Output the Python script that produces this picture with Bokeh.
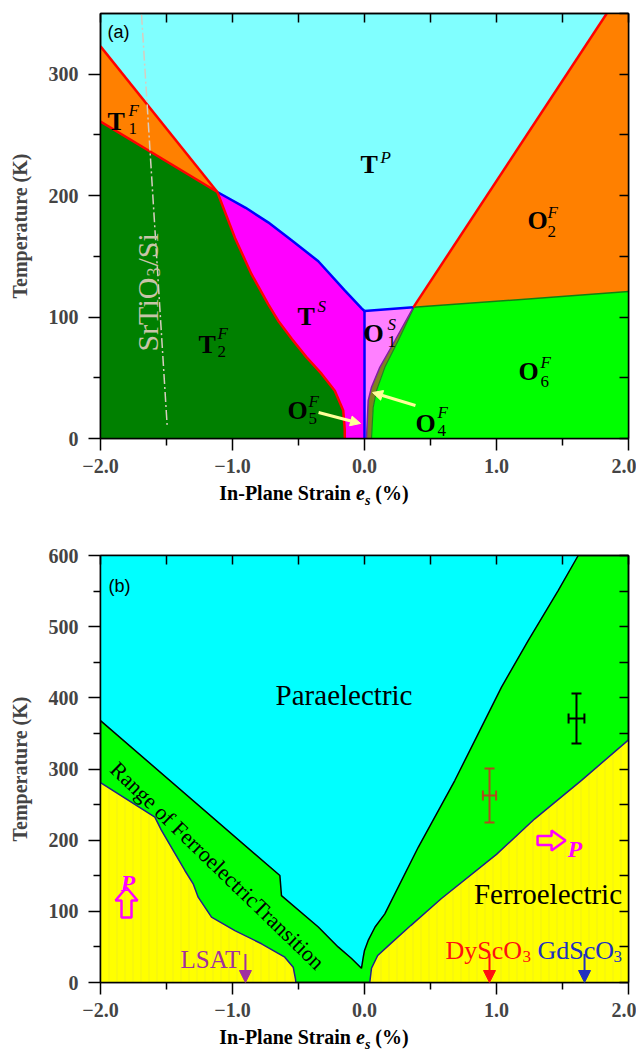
from bokeh.plotting import figure
from bokeh.layouts import column
from bokeh.models import (LinearAxis, FixedTicker, Label, Arrow, NormalHead, Whisker,
                          TeeHead, ColumnDataSource, Range1d, Div)
from bokeh.embed import file_html
from bokeh.resources import INLINE

SERIF = "Liberation Serif"
SANS = "Liberation Sans"

# ================= Panel (a): phase boundaries (in-plane strain %, temperature K)
tp_t1f_x = [-2.0, -1.115]
tp_t1f_T = [323, 203]
t1f_t2f_x = [-2.0, -1.115]
t1f_t2f_T = [261, 203]
t2f_ts_x = [-1.115, -0.982, -0.856, -0.730, -0.654, -0.55, -0.44, -0.326, -0.225, -0.161, -0.150, -0.149]
t2f_ts_T = [203, 165.4, 135.3, 110.7, 97, 82, 67, 53.4, 39.4, 23, 8, 0]
tp_ts_x = [-1.115, -0.9, -0.73, -0.55, -0.35, -0.15, -0.02, 0.0]
tp_ts_T = [203, 190, 178, 163, 146, 122, 107, 105]
tp_o1s_x = [0.0, 0.37]
tp_o1s_T = [105, 108]
ts_o1s_x = [0.0, 0.0]
ts_o1s_T = [105, 0]
o1s_o4f_x = [0.37, 0.23, 0.116, 0.053, 0.028, 0.015]
o1s_o4f_T = [108, 80.5, 58.6, 42.2, 31.2, 0]
o4f_o6f_x = [0.375, 0.255, 0.154, 0.091, 0.066, 0.053]
o4f_o6f_T = [108, 80.5, 58.6, 39.4, 25.7, 0]
tp_o2f_x = [0.37, 1.835]
tp_o2f_T = [108, 350]
o2f_o6f_x = [0.37, 2.0]
o2f_o6f_T = [108, 121]
sto_si_x = [-1.689, -1.494]
sto_si_T = [349, 9]

# ================= Panel (b): boundaries
pe_left_x = [-2.0, -0.641, -0.629, -0.35, -0.2, -0.1, -0.023]
pe_left_T = [368, 150.3, 122, 78, 50, 34, 20]
pe_right_x = [-0.023, -0.01, 0.0, 0.03, 0.08, 0.154, 0.407, 0.684, 0.861, 1.038, 1.24, 1.467, 1.619]
pe_right_T = [20, 35, 45, 60, 78, 96.5, 190, 283.8, 349.4, 415, 480.5, 550.8, 600]
fe_left_x = [-2.0, -1.588, -1.538, -1.361, -1.298, -1.26, -1.159, -0.982, -0.78, -0.604, -0.54, -0.523, -0.52]
fe_left_T = [281, 232.3, 213.6, 157.4, 138.7, 119.9, 91.8, 73, 54.4, 35.6, 21.5, 5, 0]
fe_right_x = [0.04, 0.053, 0.1, 0.2, 0.35, 0.583, 1.0, 1.29, 1.644, 2.0]
fe_right_T = [0, 20, 38, 55, 80, 118, 180, 230, 284, 341]

meas_x = [0.947, 1.606]
meas_T = [262.7, 371]
meas_xerr = [0.05, 0.06]
meas_Terr = [38, 35]
meas_colors = ["#B04A1E", "#000000"]

sub_names = ["LSAT", "DyScO", "GdScO"]
sub_strain = [-0.902, 0.947, 1.667]
sub_colors = ["#A030A0", "#FF1010", "#2030C0"]

x_ticks = [-2, -1, 0, 1, 2]
x_tick_labels = ["\u22122.0", "\u22121.0", "0.0", "1.0", "2.0"]
x_minor = [-1.5, -0.5, 0.5, 1.5]
x_all = [-2, -1.5, -1, -0.5, 0, 0.5, 1, 1.5, 2]


def make_fig(ymax, yticks, yminor, yall, frame_h, btop, bbot, bg):
    p = figure(frame_width=528, frame_height=frame_h,
               x_range=Range1d(-2, 2), y_range=Range1d(0, ymax),
               output_backend="svg", toolbar_location=None,
               min_border_left=100, min_border_right=8,
               min_border_top=btop, min_border_bottom=bbot,
               background_fill_color=bg, border_fill_color="white",
               outline_line_color="black", outline_line_width=1.5)
    p.xgrid.visible = False
    p.ygrid.visible = False
    ax = p.xaxis[0]
    ax.ticker = FixedTicker(ticks=x_ticks, minor_ticks=x_minor)
    ax.major_label_overrides = {t: l for t, l in zip(x_ticks, x_tick_labels)}
    ay = p.yaxis[0]
    ay.ticker = FixedTicker(ticks=yticks, minor_ticks=yminor)
    ay.axis_label = "Temperature (K)"
    for a in (ax, ay):
        a.axis_line_width = 1.5
        a.major_tick_line_width = 1.5
        a.minor_tick_line_width = 1.5
        a.major_tick_in = 0
        a.major_tick_out = 12
        a.minor_tick_in = 0
        a.minor_tick_out = 7
        a.major_label_text_font = SERIF
        a.major_label_text_font_style = "bold"
        a.major_label_text_font_size = "20px"
        a.axis_label_text_font = SERIF
        a.axis_label_text_font_style = "bold"
        a.axis_label_text_font_size = "20px"
    ax.major_label_standoff = 8
    ay.major_label_standoff = 10
    ay.axis_label_standoff = 15
    top = LinearAxis(ticker=FixedTicker(ticks=[], minor_ticks=x_all))
    right = LinearAxis(ticker=FixedTicker(ticks=[], minor_ticks=yall))
    for a in (top, right):
        a.minor_tick_in = 9
        a.minor_tick_out = 0
        a.major_tick_in = 0
        a.major_tick_out = 0
        a.minor_tick_line_width = 1.5
        a.axis_line_width = 1.5
    p.add_layout(top, "above")
    p.add_layout(right, "right")
    return p


def lab(p, x, y, text, size, style="normal", color="black", font=SERIF,
        align="left", baseline="alphabetic", angle=0.0):
    p.add_layout(Label(x=x, y=y, text=text, text_font=font,
                       text_font_size=f"{size}px", text_font_style=style,
                       text_color=color, text_align=align,
                       text_baseline=baseline, angle=angle))


def xlabel_div(height, pad_top):
    html = ('<div style="font-family:\'Liberation Serif\',serif; font-weight:bold; '
            'font-size:20px; line-height:20px; text-align:center; color:black; '
            f'padding-left:100px; padding-top:{pad_top}px; width:528px; white-space:nowrap;">'
            'In-Plane Strain <i>e<sub style="font-size:14px; line-height:0;">s</sub></i> (%)</div>')
    return Div(text=html, width=636, height=height, margin=(0, 0, 0, 0))


# ---------------- Figure (a)
pa = make_fig(350, [0, 100, 200, 300], [50, 150, 250], list(range(0, 351, 50)),
              425, 13, 45, "#80FFFF")

pa.patch([tp_t1f_x[0], tp_t1f_x[1], t1f_t2f_x[0]], [tp_t1f_T[0], tp_t1f_T[1], t1f_t2f_T[0]],
         fill_color="#FF8000", line_color=None)
pa.patch(t1f_t2f_x + t2f_ts_x[1:] + [-2.0], t1f_t2f_T + t2f_ts_T[1:] + [0],
         fill_color="#008000", line_color=None)
pa.patch(tp_ts_x + [0.0] + t2f_ts_x[::-1], tp_ts_T + [0] + t2f_ts_T[::-1],
         fill_color="#FF00FF", line_color=None)
pa.patch(tp_o1s_x + o1s_o4f_x[1:] + [0.0], tp_o1s_T + o1s_o4f_T[1:] + [0],
         fill_color="#FF80FF", line_color=None)
pa.patch(o1s_o4f_x + o4f_o6f_x[::-1], o1s_o4f_T + o4f_o6f_T[::-1],
         fill_color="#808020", line_color=None)
pa.patch(o4f_o6f_x + [2.0, 2.0], o4f_o6f_T + [0, 121],
         fill_color="#00FF00", line_color=None)
pa.patch(tp_o2f_x + [2.0, 2.0], tp_o2f_T + [350, 121],
         fill_color="#FF8000", line_color=None)

pa.line(o4f_o6f_x, o4f_o6f_T, line_color="#208020", line_width=1.2)
pa.line(o1s_o4f_x, o1s_o4f_T, line_color="#8020A0", line_width=1.5)
pa.line(o2f_o6f_x, o2f_o6f_T, line_color="#108010", line_width=1.5)
for xs, ts in [(tp_ts_x, tp_ts_T), (tp_o1s_x, tp_o1s_T), (ts_o1s_x, ts_o1s_T)]:
    pa.line(xs, ts, line_color="#0000FF", line_width=2.5)
for xs, ts in [(tp_t1f_x, tp_t1f_T), (t1f_t2f_x, t1f_t2f_T), (t2f_ts_x, t2f_ts_T), (tp_o2f_x, tp_o2f_T)]:
    pa.line(xs, ts, line_color="#FF0000", line_width=2.5)
pa.line(sto_si_x, sto_si_T, line_color="#D8CCC0", line_width=1.5, line_dash="10 3 2 3")

# SrTiO3/Si rotated label
lab(pa, -1.644, 71.6, "SrTiO", 30, color="#C8C4A8", angle=1.5708)
lab(pa, -1.598, 133.4, "3", 18, color="#C8C4A8", angle=1.5708)
lab(pa, -1.644, 141.6, "/Si", 30, color="#C8C4A8", angle=1.5708)

# phase labels: main letter, sup, sub, positions
phase_labels = [
    ("T", "P", None, -0.030, 225.6, 0.121, 231.4, None),
    ("T", "F", "1", -1.947, 261.0, -1.788, 270.1, 255.3),
    ("O", "F", "2", 1.235, 179.5, 1.386, 186.1, 170.5),
    ("T", "S", None, -0.508, 100.4, -0.356, 108.7, None),
    ("T", "F", "2", -1.258, 77.4, -1.114, 86.5, 71.6),
    ("O", "S", "1", -0.008, 86.4, 0.174, 93.9, 79.9),
    ("O", "F", "6", 1.167, 55.1, 1.333, 62.6, 46.9),
    ("O", "F", "5", -0.583, 23.0, -0.424, 30.5, 16.5),
    ("O", "F", "4", 0.386, 12.3, 0.553, 21.4, 6.6),
]
for main, sup, sub, mx, my, sx, sy, by in phase_labels:
    lab(pa, mx, my, main, 26, "bold")
    lab(pa, sx, sy, sup, 17, "italic")
    if sub is not None:
        lab(pa, sx, by, sub, 17)

for (x0, y0, x1, y1) in [(-0.348, 21.4, -0.030, 12.4), (0.386, 27.2, 0.061, 37.9)]:
    pa.add_layout(Arrow(end=NormalHead(size=10, fill_color="#FFFF99", line_color="#FFFF99"),
                        x_start=x0, y_start=y0, x_end=x1, y_end=y1,
                        line_color="#FFFF99", line_width=3))

lab(pa, -1.947, 334.4, "(a)", 18, font=SANS)

# ---------------- Figure (b)
pb = make_fig(600, list(range(0, 601, 100)), list(range(50, 600, 100)), list(range(0, 601, 50)),
              427, 27, 45, "#00FF00")

pb.patch([-2.0] + pe_left_x + pe_right_x[1:], [600] + pe_left_T + pe_right_T[1:],
         fill_color="#00FFFF", line_color=None)
pb.patch([-2.0] + fe_left_x, [0] + fe_left_T, fill_color="#FFFF00", line_color=None,
         hatch_pattern="|", hatch_color="#C8C860", hatch_alpha=0.25, hatch_weight=1, hatch_scale=8)
pb.patch(fe_right_x + [2.0], fe_right_T + [0], fill_color="#FFFF00", line_color=None,
         hatch_pattern="|", hatch_color="#C8C860", hatch_alpha=0.25, hatch_weight=1, hatch_scale=8)
pb.line(pe_left_x + pe_right_x[1:], pe_left_T + pe_right_T[1:], line_color="black", line_width=1.5)
pb.line(fe_left_x, fe_left_T, line_color="#20208A", line_width=1.5)
pb.line(fe_right_x, fe_right_T, line_color="#20208A", line_width=1.5)

for xm, tm, xe, te, c in zip(meas_x, meas_T, meas_xerr, meas_Terr, meas_colors):
    src = ColumnDataSource(dict(x=[xm], T=[tm], lo=[tm - te], hi=[tm + te],
                                xlo=[xm - xe], xhi=[xm + xe]))
    pb.add_layout(Whisker(source=src, base="x", lower="lo", upper="hi", dimension="height",
                          line_color=c, line_width=2,
                          lower_head=TeeHead(size=10, line_color=c, line_width=2),
                          upper_head=TeeHead(size=10, line_color=c, line_width=2)))
    pb.add_layout(Whisker(source=src, base="T", lower="xlo", upper="xhi", dimension="width",
                          line_color=c, line_width=2,
                          lower_head=TeeHead(size=10, line_color=c, line_width=2),
                          upper_head=TeeHead(size=10, line_color=c, line_width=2)))

for xs, c in zip(sub_strain, sub_colors):
    pb.add_layout(Arrow(end=NormalHead(size=12, fill_color=c, line_color=c),
                        x_start=xs, y_start=40, x_end=xs, y_end=0,
                        line_color=c, line_width=2))

lab(pb, -1.394, 32.3, sub_names[0], 25, color=sub_colors[0])
lab(pb, 0.614, 45, sub_names[1], 26, color=sub_colors[1])
lab(pb, 1.197, 36.5, "3", 17, color=sub_colors[1])
lab(pb, 1.311, 45, sub_names[2], 26, color=sub_colors[2])
lab(pb, 1.886, 36.5, "3", 17, color=sub_colors[2])

lab(pb, -0.155, 403.3, "Paraelectric", 29, align="center")
lab(pb, 1.390, 125, "Ferroelectric", 29, align="center")
lab(pb, -1.114, 164.4, "Range of FerroelectricTransition", 22, align="center",
    baseline="middle", angle=-0.768)
lab(pb, -1.939, 557.8, "(b)", 18, font=SANS)

# hollow polarization arrows (pixel-size shapes anchored in data space)
kx, kT = 1 / 132.0, 600 / 427.0
up_shape = [(-5, 0), (5, 0), (5, 17), (11, 17), (0, 30), (-11, 17), (-5, 17)]
right_shape = [(0, -4.5), (14, -4.5), (14, -10), (28, 0), (14, 10), (14, 4.5), (0, 4.5)]
for (ax0, at0), shape in [((-1.803, 91.3), up_shape), ((1.311, 199.5), right_shape)]:
    pb.patch([ax0 + dx * kx for dx, dy in shape], [at0 + dy * kT for dx, dy in shape],
             fill_alpha=0, line_color="#FF00FF", line_width=2.5)
lab(pb, -1.848, 140.5, "P", 24, "bold italic", color="#FF00FF")
lab(pb, 1.538, 186.9, "P", 24, "bold italic", color="#FF00FF")

layout = column(pa, xlabel_div(45, 0), pb, xlabel_div(24, 0), spacing=0)
open("out.html", "w").write(file_html(layout, INLINE))
